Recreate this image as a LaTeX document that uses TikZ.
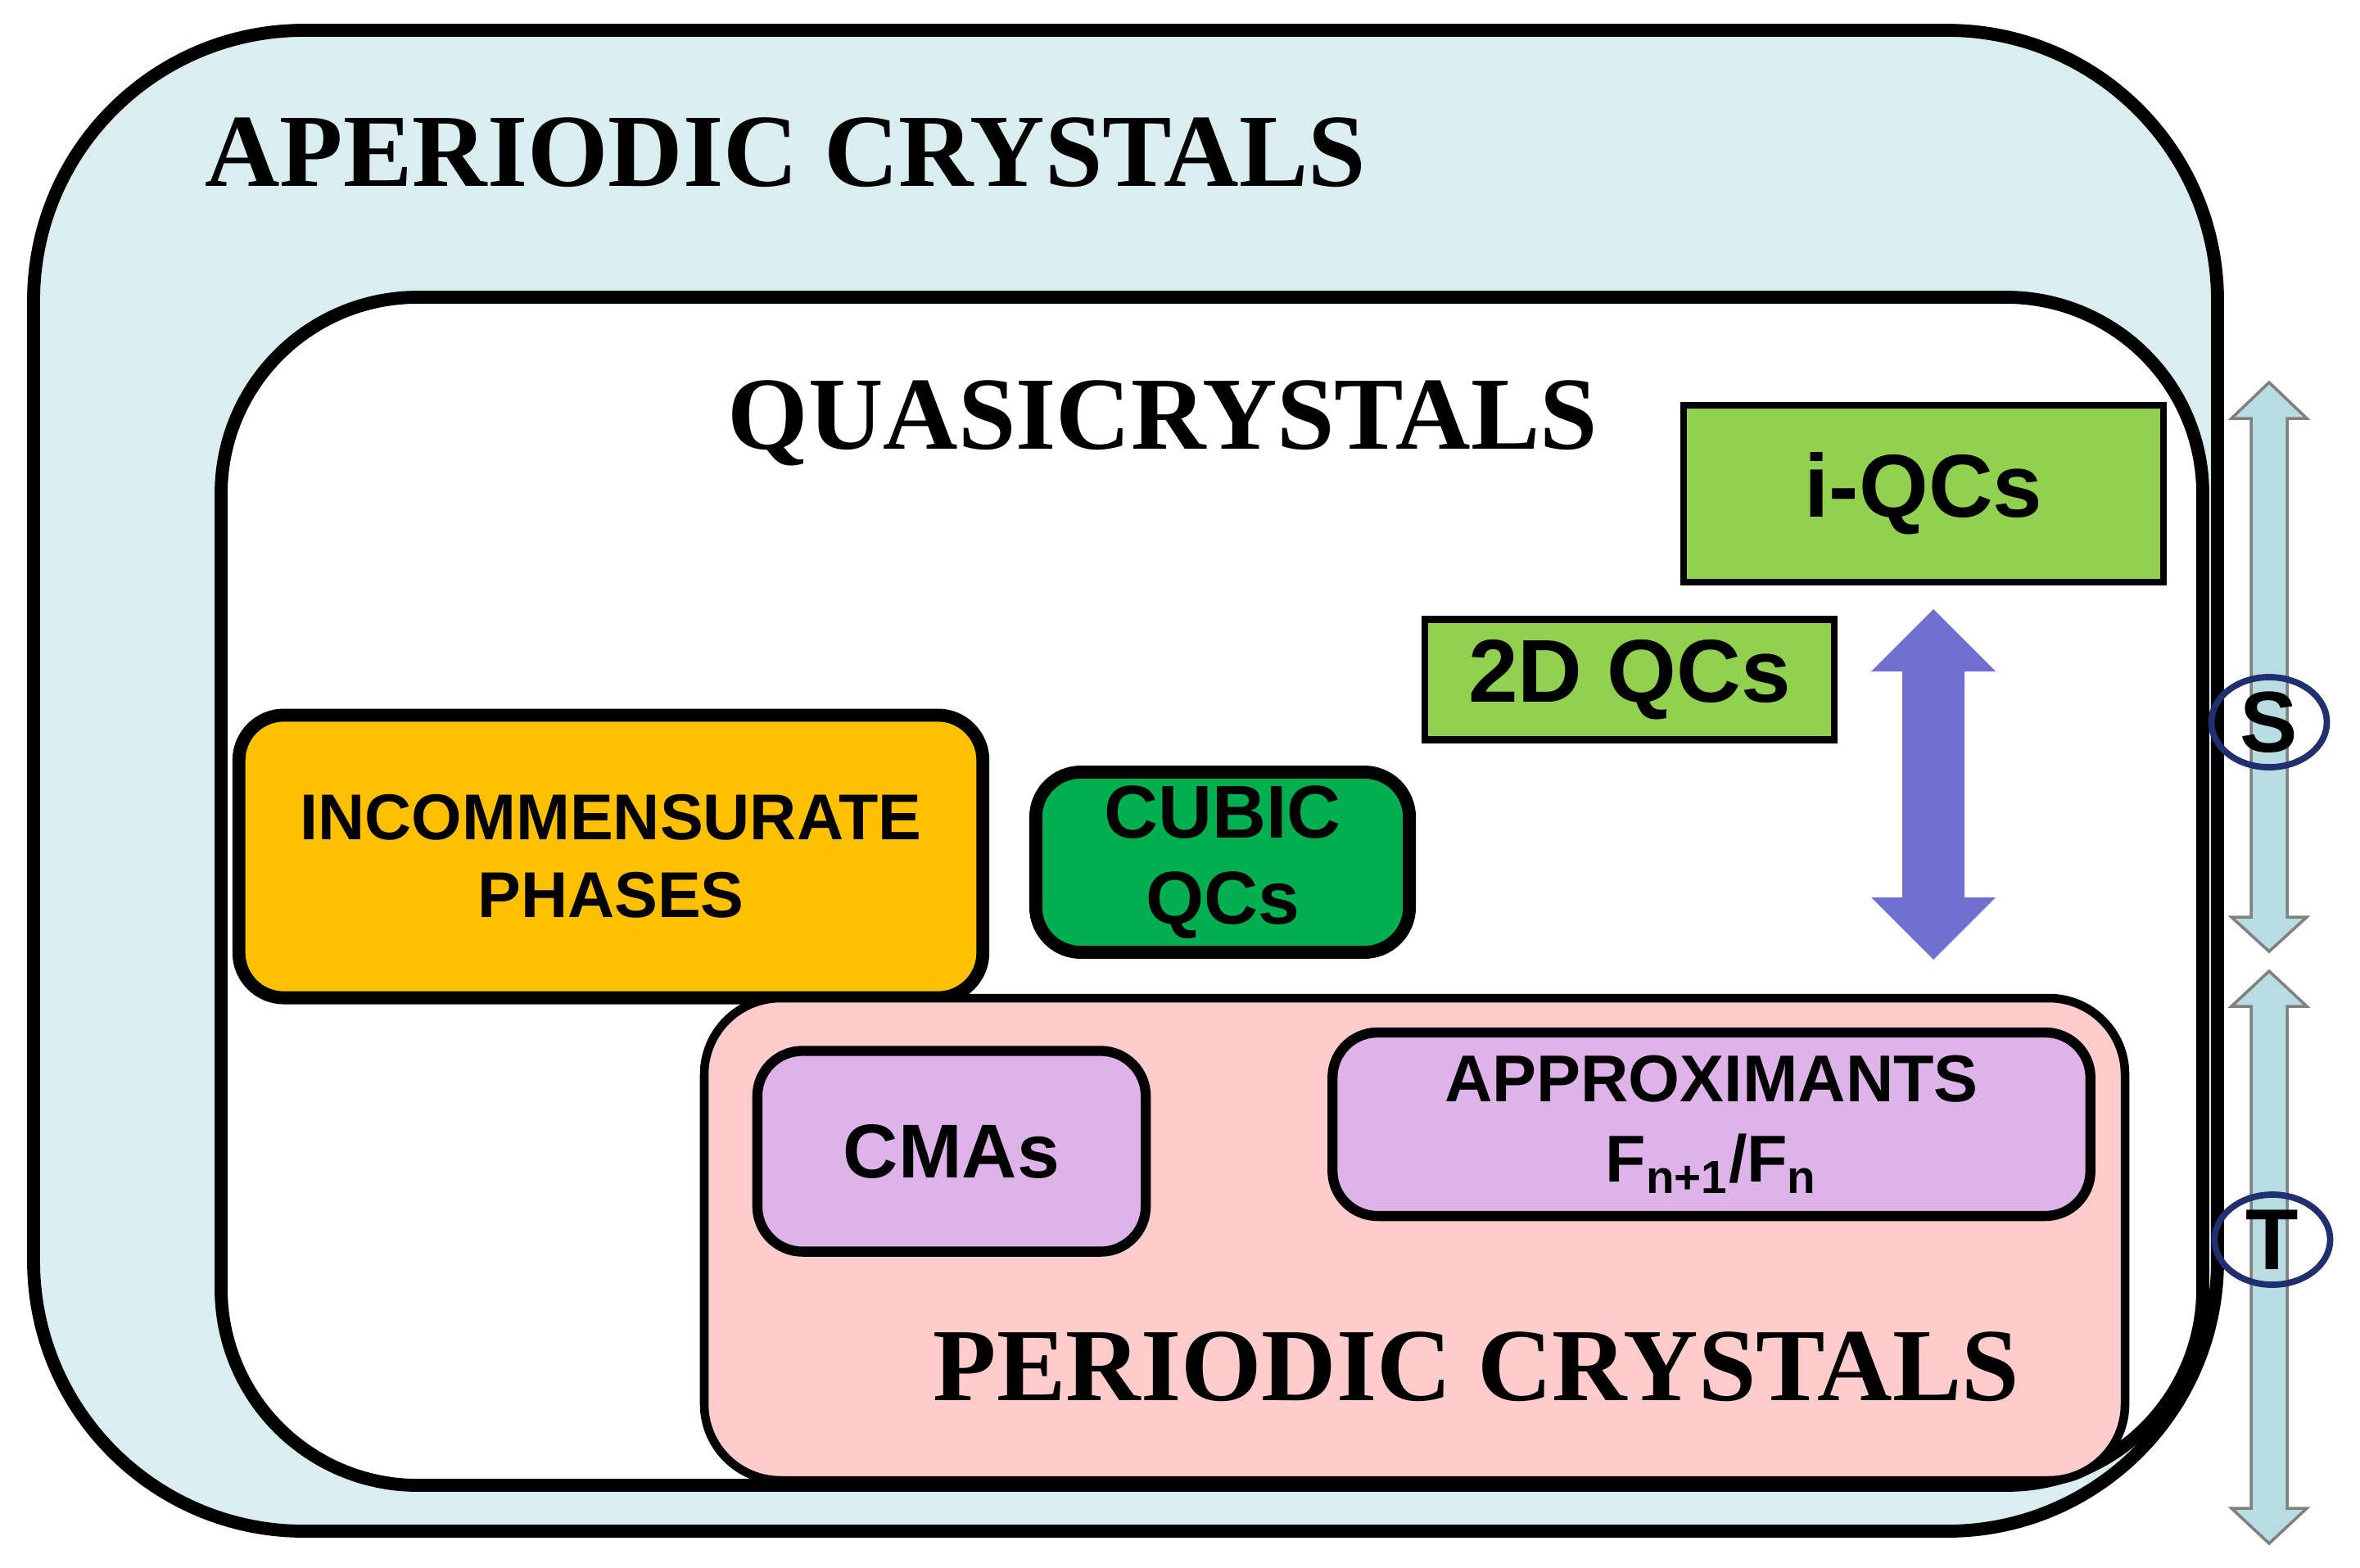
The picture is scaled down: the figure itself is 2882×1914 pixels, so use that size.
\documentclass[tikz,border=0pt]{standalone}
\usepackage{fontspec}
\setmainfont{Liberation Serif}
\newfontfamily\sans{Liberation Sans}
\usetikzlibrary{shapes.geometric}
\definecolor{aper}{HTML}{DAEEF0}
\definecolor{gA}{HTML}{92D050}
\definecolor{gB}{HTML}{00B050}
\definecolor{orng}{HTML}{FFC000}
\definecolor{pink}{HTML}{FFCCCC}
\definecolor{lav}{HTML}{DDB3EA}
\definecolor{purp}{HTML}{7070D0}
\definecolor{arr}{HTML}{B7DDE3}
\definecolor{navy}{HTML}{1F2F6F}
\begin{document}
\begin{tikzpicture}[x=0.01cm,y=-0.01cm,
  ttl/.style={font=\fontsize{36}{40}\selectfont\bfseries},
  lab/.style={font=\sans\bfseries\fontsize{22.5}{27}\selectfont,align=center},
  big/.style={font=\sans\bfseries\fontsize{31}{34}\selectfont},
  sq/.style={draw=black,line width=2.4pt},
  rbox/.style={draw=black,line width=4.5pt,rounded corners=0.55cm},
  sidearr/.style={draw=gray,line width=1pt,fill=arr},
  ell/.style={ellipse,draw=navy,line width=2.2pt,minimum width=1.41cm,minimum height=1.1cm,inner sep=0pt,font=\sans\bfseries\fontsize{30}{32}\selectfont}]
\useasboundingbox (0,0) rectangle (2882,1914);
\fill[white] (0,0) rectangle (2882,1914);
\draw[line width=4.5pt,fill=aper,rounded corners=3.3cm] (41,37) rectangle (2708,1870);
\node[ttl,anchor=west] (ap) at (238,186) {APERIODIC CRYSTALS};
\draw[line width=4.5pt,fill=white,rounded corners=2.4cm] (270,363) rectangle (2690,1814);
\node[ttl] (qc) at (1420,517) {QUASICRYSTALS};
\node[sq,fill=gA,minimum width=5.86cm,minimum height=2.16cm,big] (iq) at (2349,603) {i-QCs};
\node[sq,fill=gA,minimum width=5.0cm,minimum height=1.47cm,big] (dq) at (1990,830) {2D QCs};
\fill[purp] (2361,744) -- (2437,820) -- (2399,820) -- (2399,1096) -- (2437,1096) -- (2361,1172) -- (2285,1096) -- (2323,1096) -- (2323,820) -- (2285,820) -- cycle;
\node[rbox,fill=orng,minimum width=9.08cm,minimum height=3.45cm,lab] (inc) at (746,1046) {INCOMMENSURATE\\PHASES};
\node[rbox,fill=gB,minimum width=4.56cm,minimum height=2.2cm,align=center,font=\sans\bfseries\fontsize{26}{30}\selectfont] (cu) at (1493,1053) {CUBIC\\QCs};
\draw[line width=3pt,fill=pink,rounded corners=0.93cm] (860,1219) rectangle (2595,1808);
\node[rbox,line width=3.5pt,fill=lav,minimum width=4.74cm,minimum height=2.45cm,font=\sans\bfseries\fontsize{26.5}{30}\selectfont] (cma) at (1162,1406) {CMAs};
\node[rbox,line width=3.5pt,fill=lav,minimum width=9.25cm,minimum height=2.24cm,lab,font=\sans\bfseries\fontsize{23}{28}\selectfont] (apx) at (2090,1373) {APPROXIMANTS\\F\textsubscript{n+1}/F\textsubscript{n}};
\node[ttl] (pc) at (1803,1669) {PERIODIC CRYSTALS};
\draw[sidearr] (2771,467) -- (2817,511) -- (2793,511) -- (2793,1120) -- (2817,1120) -- (2771,1162) -- (2725,1120) -- (2749,1120) -- (2749,511) -- (2725,511) -- cycle;
\draw[sidearr] (2771,1186) -- (2817,1229) -- (2793,1229) -- (2793,1842) -- (2817,1842) -- (2771,1885) -- (2725,1842) -- (2749,1842) -- (2749,1229) -- (2725,1229) -- cycle;
\node[ell] (s) at (2771,882) {S};
\node[ell] (t) at (2775,1514) {T};
\end{tikzpicture}
\end{document}
